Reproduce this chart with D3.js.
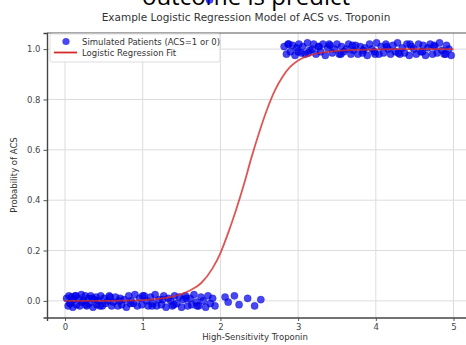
<!DOCTYPE html>
<html><head><meta charset="utf-8">
<script src="https://cdn.jsdelivr.net/npm/d3@7"></script>
<style>body{margin:0;background:#fff;}svg{display:block;font-family:"DejaVu Sans",sans-serif;}</style>
</head><body>
<svg id="c" width="466" height="345"></svg>
<script>
const topText = "outcome is predict";
const title = "Example Logistic Regression Model of ACS vs. Troponin";
const xLabel = "High-Sensitivity Troponin";
const yLabel = "Probability of ACS";
const legendLabels = ["Simulated Patients (ACS=1 or 0)", "Logistic Regression Fit"];
const xTicks = [0, 1, 2, 3, 4, 5];
const yTicks = [0.0, 0.2, 0.4, 0.6, 0.8, 1.0];

const x0 = [0.02,0.04,0.05,0.07,0.08,0.10,0.11,0.13,0.15,0.17,0.19,0.21,0.22,0.24,0.26,0.28,0.30,0.31,0.33,0.36,0.38,0.40,0.41,0.43,0.46,0.48,0.50,0.52,0.55,0.57,0.60,0.62,0.65,0.68,0.71,0.73,0.76,0.79,0.82,0.85,0.88,0.90,0.93,0.96,0.99,1.02,1.05,1.07,1.10,1.13,1.16,1.18,1.21,1.24,1.27,1.30,1.33,1.36,1.38,1.41,1.44,1.47,1.50,1.52,1.55,1.58,1.61,1.63,1.66,1.69,1.72,1.75,1.78,1.81,1.84,1.87,1.90,1.93,2.06,2.10,2.18,2.24,2.35,2.44,2.52,0.06,0.14,0.27,0.35,0.45,0.58,0.70,0.84,1.00,1.12,1.26,1.40,1.56,1.70,1.86];
const y0 = [0.01,-0.02,0.02,-0.01,0.015,-0.025,0.005,0.02,-0.015,0.01,-0.02,0.025,-0.005,0.0,0.02,-0.02,0.01,-0.01,0.02,-0.025,0.005,0.015,-0.015,0.0,0.02,-0.02,0.01,-0.01,0.0,0.02,-0.02,-0.005,0.015,-0.02,0.01,-0.015,0.005,-0.025,0.02,0.0,-0.01,0.025,-0.02,0.01,-0.015,0.02,0.0,-0.02,0.015,-0.01,0.025,-0.02,0.005,-0.015,0.02,-0.025,0.01,0.0,-0.02,0.02,-0.01,0.015,-0.025,0.005,0.02,-0.02,0.01,-0.015,0.025,-0.005,-0.02,0.015,0.0,-0.025,0.02,-0.01,0.01,-0.02,0.015,-0.005,0.02,-0.015,0.01,-0.02,0.005,-0.01,0.02,-0.015,0.01,-0.02,0.015,0.0,-0.01,0.02,-0.02,0.005,-0.015,0.01,-0.02];
const x1 = [2.82,2.85,2.87,2.90,2.93,2.96,2.98,3.01,3.04,3.06,3.09,3.12,3.15,3.18,3.20,3.23,3.26,3.29,3.32,3.35,3.38,3.41,3.44,3.47,3.50,3.53,3.56,3.59,3.62,3.65,3.68,3.71,3.74,3.77,3.80,3.83,3.86,3.89,3.92,3.95,3.98,4.01,4.04,4.07,4.10,4.13,4.16,4.19,4.22,4.25,4.28,4.31,4.34,4.37,4.40,4.43,4.46,4.49,4.52,4.55,4.58,4.61,4.64,4.67,4.70,4.73,4.76,4.79,4.82,4.85,4.88,4.91,4.94,4.97,2.88,3.00,3.13,3.27,3.40,3.55,3.70,3.84,3.99,4.14,4.29,4.44,4.60,4.75,4.90];
const y1 = [1.01,0.98,1.02,0.99,1.015,0.975,1.005,1.02,0.985,1.01,0.98,1.025,0.995,1.0,1.02,0.98,1.01,0.99,1.02,0.975,1.005,1.015,0.985,1.0,1.02,0.98,1.01,0.99,1.0,1.02,0.98,0.995,1.015,0.98,1.01,0.985,1.005,0.975,1.02,1.0,0.99,1.025,0.98,1.01,0.985,1.02,1.0,0.98,1.015,0.99,1.025,0.98,1.005,0.985,1.02,0.975,1.01,1.0,0.98,1.02,0.99,1.015,0.975,1.005,1.02,0.98,1.01,0.985,1.025,0.995,0.98,1.015,1.0,0.975,1.02,0.99,0.985,1.01,1.02,0.98,1.015,0.995,0.98,1.01,0.985,1.02,0.99,1.015,0.98];
const fitX = [0.00,0.25,0.50,0.75,1.00,1.20,1.40,1.60,1.75,1.90,2.00,2.10,2.20,2.30,2.40,2.50,2.60,2.70,2.80,2.90,3.00,3.15,3.30,3.50,3.75,4.00,4.25,4.50,4.75,5.00];
const fitY = [0.000,0.000,0.000,0.001,0.003,0.008,0.018,0.040,0.070,0.130,0.190,0.270,0.360,0.460,0.570,0.670,0.760,0.835,0.890,0.930,0.955,0.975,0.986,0.993,0.997,0.999,1.000,1.000,1.000,1.000];

const svg = d3.select("#c");
const L = 47, R = 471, T = 33, B = 317.5;
const x = d3.scaleLinear().domain([-0.232, 5.225]).range([L, R]);
const y = d3.scaleLinear().domain([-0.066, 1.064]).range([B, T]);

svg.append("text").attr("x", 246).attr("y", 5).attr("text-anchor", "middle")
  .attr("font-family", "Open Sans, sans-serif").attr("font-size", 24).attr("fill", "#000").text(topText);

svg.append("text").attr("x", 246).attr("y", 21).attr("text-anchor", "middle")
  .attr("font-size", 10.5).attr("fill", "#333").text(title);

// grid
const g = svg.append("g");
g.selectAll(".gx").data(xTicks).enter().append("line")
  .attr("x1", d => x(d)).attr("x2", d => x(d)).attr("y1", T).attr("y2", B)
  .attr("stroke", "#dcdcdc").attr("stroke-width", 1);
g.selectAll(".gy").data(yTicks).enter().append("line")
  .attr("x1", L).attr("x2", R).attr("y1", d => y(d)).attr("y2", d => y(d))
  .attr("stroke", "#dcdcdc").attr("stroke-width", 1);

// axes
const xAxis = svg.append("g").attr("transform", `translate(0,${B})`)
  .call(d3.axisBottom(x).tickValues(xTicks).tickFormat(d3.format("d")).tickSize(3.5).tickPadding(3));
const yAxis = svg.append("g").attr("transform", `translate(${L},0)`)
  .call(d3.axisLeft(y).tickValues(yTicks).tickFormat(d3.format(".1f")).tickSize(3.5).tickPadding(3));
[xAxis, yAxis].forEach(a => {
  a.select(".domain").attr("stroke", "#444").attr("stroke-width", 1.4);
  a.selectAll(".tick line").attr("stroke", "#555");
  a.selectAll(".tick text").attr("fill", "#444").attr("font-size", 8.5).attr("font-family", "DejaVu Sans, sans-serif");
});
svg.append("line").attr("x1", L).attr("x2", R).attr("y1", T).attr("y2", T).attr("stroke", "#555").attr("stroke-width", 1.2);

// points
const pts0 = x0.map((v, i) => [v, y0[i]]);
const pts1 = x1.map((v, i) => [v, y1[i]]);
svg.append("g").selectAll("circle").data(pts0.concat(pts1)).enter().append("circle")
  .attr("cx", d => x(d[0])).attr("cy", d => y(d[1])).attr("r", 3.6)
  .attr("fill", "#0000f0").attr("fill-opacity", 0.72)
  .attr("stroke", "#0000b0").attr("stroke-opacity", 0.5).attr("stroke-width", 0.6);

// fit line
const line = d3.line().x((d, i) => x(fitX[i])).y(d => y(d)).curve(d3.curveMonotoneX);
svg.append("path").datum(fitY).attr("d", line).attr("fill", "none")
  .attr("stroke", "#d42a2a").attr("stroke-width", 1.8).attr("stroke-opacity", 0.8);

// legend
const lg = svg.append("g");
lg.append("rect").attr("x", 50).attr("y", 34).attr("width", 170).attr("height", 28).attr("rx", 2)
  .attr("fill", "#fff").attr("fill-opacity", 0.85).attr("stroke", "#ddd");
lg.append("circle").attr("cx", 66).attr("cy", 41.5).attr("r", 3.6).attr("fill", "#0000f0").attr("fill-opacity", 0.72);
lg.append("line").attr("x1", 54).attr("x2", 77).attr("y1", 52.5).attr("y2", 52.5).attr("stroke", "#d42a2a").attr("stroke-width", 1.8);
lg.append("text").attr("x", 82).attr("y", 44.5).attr("font-size", 8.5).attr("fill", "#333").text(legendLabels[0]);
lg.append("text").attr("x", 82).attr("y", 55.5).attr("font-size", 8.5).attr("fill", "#333").text(legendLabels[1]);

svg.append("text").attr("x", 255).attr("y", 340).attr("text-anchor", "middle")
  .attr("font-size", 8.5).attr("fill", "#333").text(xLabel);
svg.append("text").attr("transform", "translate(17,175) rotate(-90)").attr("text-anchor", "middle")
  .attr("font-size", 8.5).attr("fill", "#333").text(yLabel);
</script>
</body></html>
